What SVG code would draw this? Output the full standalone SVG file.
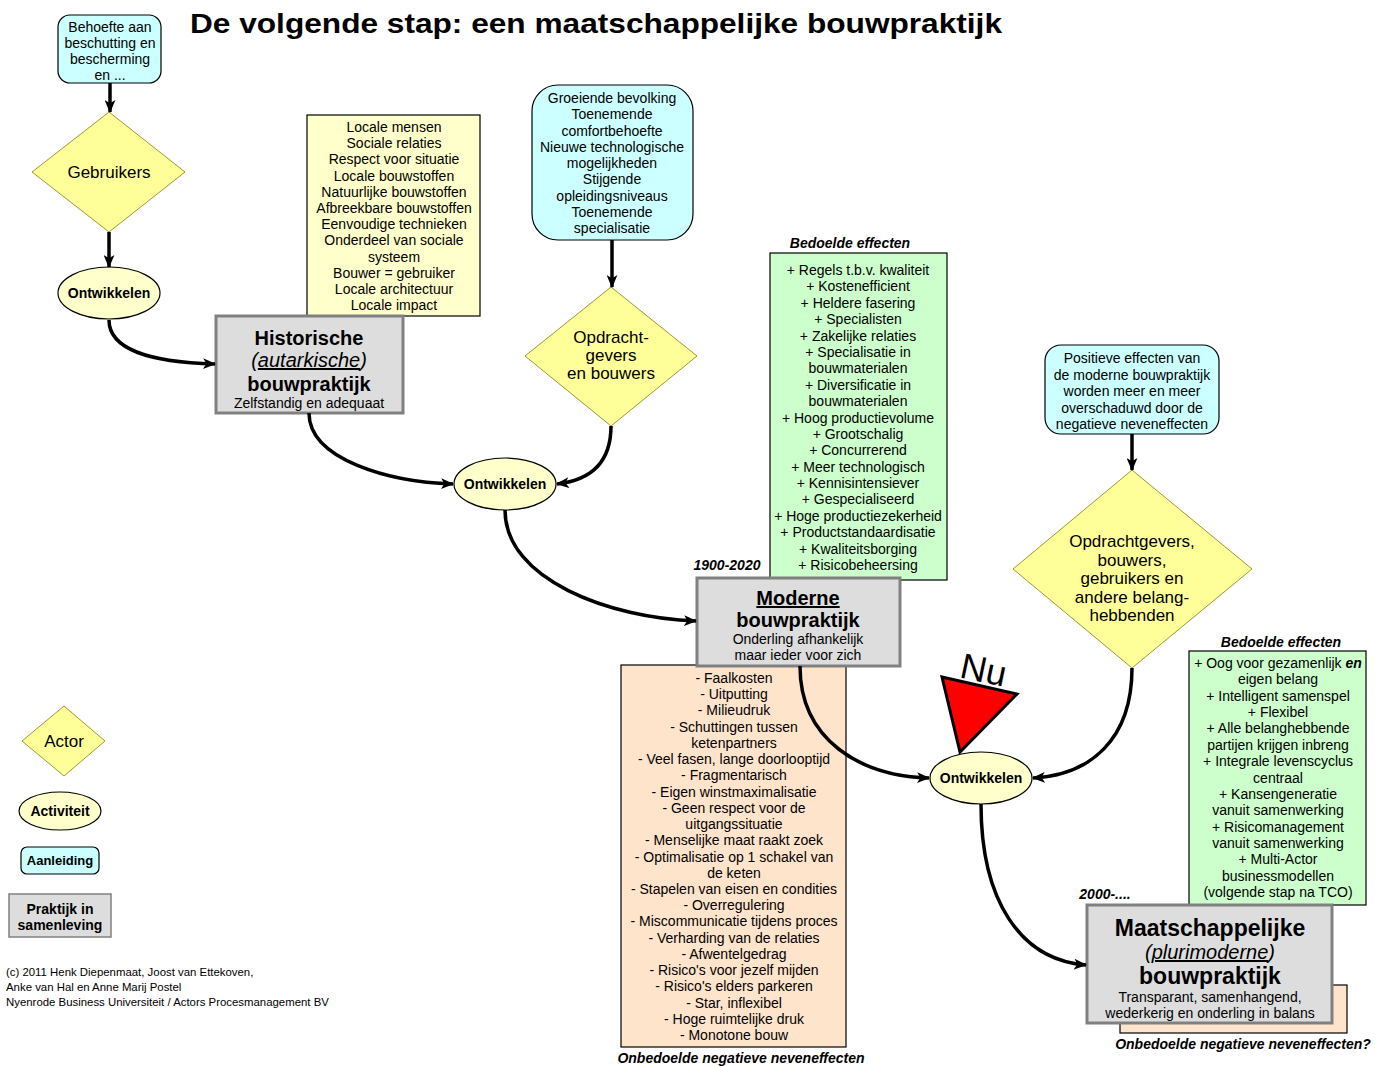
<svg xmlns="http://www.w3.org/2000/svg" width="1384" height="1066" viewBox="0 0 1384 1066">
<style>
text{font-family:"Liberation Sans",Arial,sans-serif;fill:#000;}
.t{font-size:14px;text-anchor:middle;}
.b{font-weight:bold;}
.bi{font-weight:bold;font-style:italic;font-size:14px;text-anchor:middle;}
.d{font-size:17px;text-anchor:middle;}
.big{font-size:20px;font-weight:bold;text-anchor:middle;}
.cyan{fill:#ccffff;stroke:#000;stroke-width:1.2;}
.dia{fill:#ffff99;stroke:#999933;stroke-width:1;}
.ell{fill:#ffffcc;stroke:#000;stroke-width:1.2;}
.box{stroke:#000;stroke-width:1.2;}
.prak{fill:#dddddd;stroke:#808080;stroke-width:3;}
.con{fill:none;stroke:#000;stroke-width:3.5;marker-end:url(#ah);}
</style>
<defs>
<marker id="ah" viewBox="0 0 12 10" refX="11" refY="5" markerWidth="13" markerHeight="11" orient="auto" markerUnits="userSpaceOnUse">
<path d="M0,0 L12,5 L0,10 L3,5 z" fill="#000"/>
</marker>
</defs>
<rect width="1384" height="1066" fill="#fff"/>

<text id="title" x="190" y="33" font-size="28" font-weight="bold" textLength="812" lengthAdjust="spacingAndGlyphs">De volgende stap: een maatschappelijke bouwpraktijk</text>

<g id="aanleiding1">
<rect class="cyan" x="58" y="15" width="103" height="68" rx="12"/>
<text class="t"><tspan x="110" y="32">Behoefte aan</tspan><tspan x="110" y="48">beschutting en</tspan><tspan x="110" y="64">bescherming</tspan><tspan x="110" y="80">en ...</tspan></text>
</g>

<g id="gebruikers">
<polygon class="dia" points="109,112 185,172 109,232 32,172"/>
<text class="d" x="109" y="178">Gebruikers</text>
</g>

<g id="ontwikkelen1">
<ellipse class="ell" cx="109" cy="293" rx="51" ry="26"/>
<text class="t b" x="109" y="298">Ontwikkelen</text>
</g>

<g id="kenmerken-historisch">
<rect class="box" x="307" y="115" width="173" height="201" fill="#ffffcc"/>
<text class="t"><tspan x="394" y="132">Locale mensen</tspan><tspan x="394" dy="16.2">Sociale relaties</tspan><tspan x="394" dy="16.2">Respect voor situatie</tspan><tspan x="394" dy="16.2">Locale bouwstoffen</tspan><tspan x="394" dy="16.2">Natuurlijke bouwstoffen</tspan><tspan x="394" dy="16.2">Afbreekbare bouwstoffen</tspan><tspan x="394" dy="16.2">Eenvoudige technieken</tspan><tspan x="394" dy="16.2">Onderdeel van sociale</tspan><tspan x="394" dy="16.2">systeem</tspan><tspan x="394" dy="16.2">Bouwer = gebruiker</tspan><tspan x="394" dy="16.2">Locale architectuur</tspan><tspan x="394" dy="16.2">Locale impact</tspan></text>
</g>

<g id="historische">
<rect class="prak" x="216" y="316" width="187" height="97"/>
<text class="big" x="309" y="345">Historische</text>
<text x="309" y="367" font-size="20" font-style="italic" text-anchor="middle">(<tspan text-decoration="underline">autarkische</tspan>)</text>
<text class="big" x="309" y="391">bouwpraktijk</text>
<text class="t" x="309" y="408">Zelfstandig en adequaat</text>
</g>

<g id="aanleiding2">
<rect class="cyan" x="532" y="85" width="161" height="155" rx="26"/>
<text class="t"><tspan x="612" y="103">Groeiende bevolking</tspan><tspan x="612" dy="16.25">Toenemende</tspan><tspan x="612" dy="16.25">comfortbehoefte</tspan><tspan x="612" dy="16.25">Nieuwe technologische</tspan><tspan x="612" dy="16.25">mogelijkheden</tspan><tspan x="612" dy="16.25">Stijgende</tspan><tspan x="612" dy="16.25">opleidingsniveaus</tspan><tspan x="612" dy="16.25">Toenemende</tspan><tspan x="612" dy="16.25">specialisatie</tspan></text>
</g>

<g id="opdrachtgevers">
<polygon class="dia" points="611,287 697,356 611,426 525,356"/>
<text class="d"><tspan x="611" y="343">Opdracht-</tspan><tspan x="611" dy="18">gevers</tspan><tspan x="611" dy="18">en bouwers</tspan></text>
</g>

<g id="ontwikkelen2">
<ellipse class="ell" cx="505" cy="484" rx="51" ry="26"/>
<text class="t b" x="505" y="489">Ontwikkelen</text>
</g>

<g id="bedoeld-modern">
<text class="bi" x="850" y="248">Bedoelde effecten</text>
<rect class="box" x="770" y="253" width="177" height="327" fill="#ccffcc"/>
<text class="t"><tspan x="858" y="275">+ Regels t.b.v. kwaliteit</tspan><tspan x="858" dy="16.39">+ Kostenefficient</tspan><tspan x="858" dy="16.39">+ Heldere fasering</tspan><tspan x="858" dy="16.39">+ Specialisten</tspan><tspan x="858" dy="16.39">+ Zakelijke relaties</tspan><tspan x="858" dy="16.39">+ Specialisatie in</tspan><tspan x="858" dy="16.39">bouwmaterialen</tspan><tspan x="858" dy="16.39">+ Diversificatie in</tspan><tspan x="858" dy="16.39">bouwmaterialen</tspan><tspan x="858" dy="16.39">+ Hoog productievolume</tspan><tspan x="858" dy="16.39">+ Grootschalig</tspan><tspan x="858" dy="16.39">+ Concurrerend</tspan><tspan x="858" dy="16.39">+ Meer technologisch</tspan><tspan x="858" dy="16.39">+ Kennisintensiever</tspan><tspan x="858" dy="16.39">+ Gespecialiseerd</tspan><tspan x="858" dy="16.39">+ Hoge productiezekerheid</tspan><tspan x="858" dy="16.39">+ Productstandaardisatie</tspan><tspan x="858" dy="16.39">+ Kwaliteitsborging</tspan><tspan x="858" dy="16.39">+ Risicobeheersing</tspan></text>
</g>

<g id="onbedoeld-modern">
<rect class="box" x="621" y="665" width="225" height="382" fill="#ffe4cc"/>
<text class="t"><tspan x="734" y="683">- Faalkosten</tspan><tspan x="734" dy="16.23">- Uitputting</tspan><tspan x="734" dy="16.23">- Milieudruk</tspan><tspan x="734" dy="16.23">- Schuttingen tussen</tspan><tspan x="734" dy="16.23">ketenpartners</tspan><tspan x="734" dy="16.23">- Veel fasen, lange doorlooptijd</tspan><tspan x="734" dy="16.23">- Fragmentarisch</tspan><tspan x="734" dy="16.23">- Eigen winstmaximalisatie</tspan><tspan x="734" dy="16.23">- Geen respect voor de</tspan><tspan x="734" dy="16.23">uitgangssituatie</tspan><tspan x="734" dy="16.23">- Menselijke maat raakt zoek</tspan><tspan x="734" dy="16.23">- Optimalisatie op 1 schakel van</tspan><tspan x="734" dy="16.23">de keten</tspan><tspan x="734" dy="16.23">- Stapelen van eisen en condities</tspan><tspan x="734" dy="16.23">- Overregulering</tspan><tspan x="734" dy="16.23">- Miscommunicatie tijdens proces</tspan><tspan x="734" dy="16.23">- Verharding van de relaties</tspan><tspan x="734" dy="16.23">- Afwentelgedrag</tspan><tspan x="734" dy="16.23">- Risico's voor jezelf mijden</tspan><tspan x="734" dy="16.23">- Risico's elders parkeren</tspan><tspan x="734" dy="16.23">- Star, inflexibel</tspan><tspan x="734" dy="16.23">- Hoge ruimtelijke druk</tspan><tspan x="734" dy="16.23">- Monotone bouw</tspan></text>
<text class="bi" x="741" y="1063">Onbedoelde negatieve neveneffecten</text>
</g>

<g id="moderne">
<text class="bi" x="727" y="570">1900-2020</text>
<rect class="prak" x="697" y="578" width="203" height="88"/>
<text class="big" x="798" y="605" text-decoration="underline">Moderne</text>
<text class="big" x="798" y="627">bouwpraktijk</text>
<text class="t"><tspan x="798" y="644">Onderling afhankelijk</tspan><tspan x="798" y="660">maar ieder voor zich</tspan></text>
</g>

<g id="aanleiding3">
<rect class="cyan" x="1045" y="345" width="174" height="89" rx="16"/>
<text class="t"><tspan x="1132" y="363">Positieve effecten van</tspan><tspan x="1132" dy="16.5">de moderne bouwpraktijk</tspan><tspan x="1132" dy="16.5">worden meer en meer</tspan><tspan x="1132" dy="16.5">overschaduwd door de</tspan><tspan x="1132" dy="16.5">negatieve neveneffecten</tspan></text>
</g>

<g id="belanghebbenden">
<polygon class="dia" points="1132,470 1252,569 1132,668 1013,569"/>
<text class="d"><tspan x="1132" y="547">Opdrachtgevers,</tspan><tspan x="1132" dy="18.5">bouwers,</tspan><tspan x="1132" dy="18.5">gebruikers en</tspan><tspan x="1132" dy="18.5">andere belang-</tspan><tspan x="1132" dy="18.5">hebbenden</tspan></text>
</g>

<g id="ontwikkelen3">
<ellipse class="ell" cx="981" cy="778" rx="51" ry="26"/>
<text class="t b" x="981" y="783">Ontwikkelen</text>
</g>

<g id="nu">
<polygon points="942,677 1017,694 960,752" fill="#ff0000" stroke="#000" stroke-width="3" stroke-linejoin="miter"/>
<text transform="translate(981,682) rotate(12)" font-size="36" text-anchor="middle" fill="#000022">Nu</text>
</g>

<g id="bedoeld-maatschappelijk">
<text class="bi" x="1281" y="647">Bedoelde effecten</text>
<rect class="box" x="1189" y="651" width="177" height="254" fill="#ccffcc"/>
<text class="t"><tspan x="1278" y="668">+ Oog voor gezamenlijk <tspan font-weight="bold" font-style="italic">en</tspan></tspan><tspan x="1278" dy="16.36">eigen belang</tspan><tspan x="1278" dy="16.36">+ Intelligent samenspel</tspan><tspan x="1278" dy="16.36">+ Flexibel</tspan><tspan x="1278" dy="16.36">+ Alle belanghebbende</tspan><tspan x="1278" dy="16.36">partijen krijgen inbreng</tspan><tspan x="1278" dy="16.36">+ Integrale levenscyclus</tspan><tspan x="1278" dy="16.36">centraal</tspan><tspan x="1278" dy="16.36">+ Kansengeneratie</tspan><tspan x="1278" dy="16.36">vanuit samenwerking</tspan><tspan x="1278" dy="16.36">+ Risicomanagement</tspan><tspan x="1278" dy="16.36">vanuit samenwerking</tspan><tspan x="1278" dy="16.36">+ Multi-Actor</tspan><tspan x="1278" dy="16.36">businessmodellen</tspan><tspan x="1278" dy="16.36">(volgende stap na TCO)</tspan></text>
</g>

<g id="onbedoeld-maatschappelijk">
<rect class="box" x="1120" y="985" width="227" height="48" fill="#ffe4cc"/>
<text class="bi" x="1243" y="1049">Onbedoelde negatieve neveneffecten?</text>
</g>

<g id="maatschappelijke">
<text class="bi" x="1105" y="899">2000-....</text>
<rect class="prak" x="1087" y="905" width="245" height="118"/>
<text x="1210" y="936" font-size="23" font-weight="bold" text-anchor="middle">Maatschappelijke</text>
<text x="1210" y="959" font-size="20" font-style="italic" text-anchor="middle">(<tspan text-decoration="underline">plurimoderne</tspan>)</text>
<text x="1210" y="984" font-size="23" font-weight="bold" text-anchor="middle">bouwpraktijk</text>
<text class="t"><tspan x="1210" y="1002">Transparant, samenhangend,</tspan><tspan x="1210" y="1018">wederkerig en onderling in balans</tspan></text>
</g>

<g id="connectors">
<path class="con" d="M110,83 V112"/>
<path class="con" d="M109,232 V267"/>
<path class="con" d="M612,240 V287"/>
<path class="con" d="M1132,434 V470"/>
<path class="con" d="M109,320 C109,350 150,362 215,364"/>
<path class="con" d="M309,413 C309,460 390,482 453,484"/>
<path class="con" d="M611,426 C611,462 592,480 557,484"/>
<path class="con" d="M505,510 C505,580 610,618 696,621"/>
<path class="con" d="M800,666 C800,740 860,776 929,778"/>
<path class="con" d="M1132,668 C1132,740 1090,775 1033,778"/>
<path class="con" d="M981,804 C981,900 1020,960 1086,965"/>
</g>

<g id="legenda-actor">
<polygon class="dia" points="64,706 105,741 64,776 22,741"/>
<text class="d" x="64" y="747">Actor</text>
</g>
<g id="legenda-activiteit">
<ellipse class="ell" cx="60" cy="811" rx="41" ry="19"/>
<text class="t b" x="60" y="816">Activiteit</text>
</g>
<g id="legenda-aanleiding">
<rect class="cyan" x="21" y="847" width="78" height="27" rx="6"/>
<text x="60" y="865" font-size="13" font-weight="bold" text-anchor="middle">Aanleiding</text>
</g>
<g id="legenda-praktijk">
<rect x="9" y="894" width="102" height="43" fill="#dddddd" stroke="#808080" stroke-width="1.5"/>
<text class="t b"><tspan x="60" y="914">Praktijk in</tspan><tspan x="60" y="930">samenleving</tspan></text>
</g>

<g id="copyright">
<text font-size="11.4"><tspan x="6" y="976">(c) 2011 Henk Diepenmaat, Joost van Ettekoven,</tspan><tspan x="6" y="991">Anke van Hal en Anne Marij Postel</tspan><tspan x="6" y="1006">Nyenrode Business Universiteit / Actors Procesmanagement BV</tspan></text>
</g>
</svg>
